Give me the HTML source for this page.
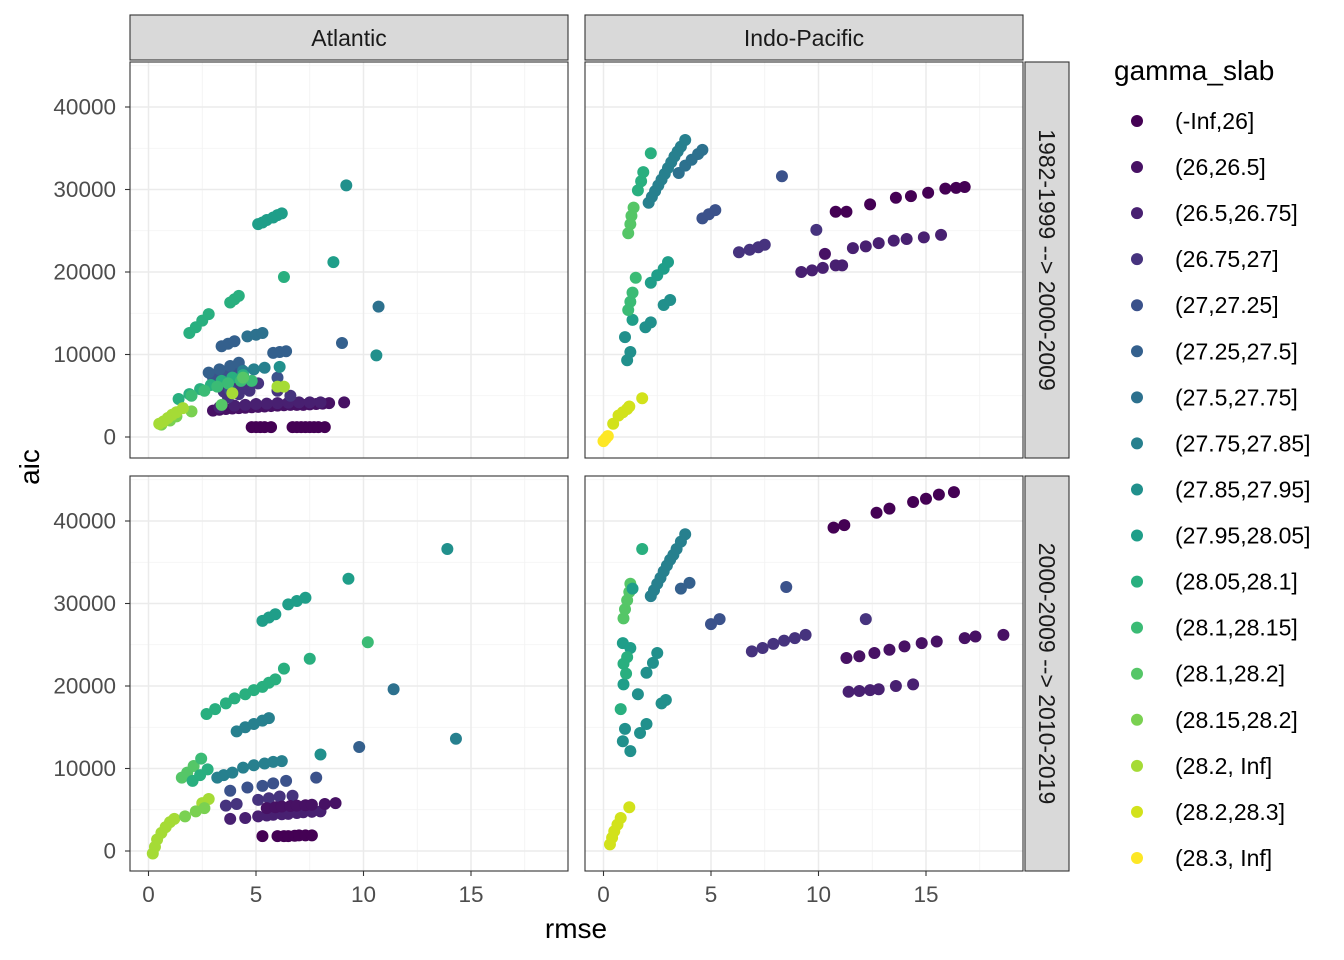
<!DOCTYPE html>
<html><head><meta charset="utf-8"><style>
body{margin:0;background:#fff;}
svg{display:block;font-family:"Liberation Sans",sans-serif;}
</style></head><body>
<svg id="chart" width="1344" height="960" xmlns="http://www.w3.org/2000/svg"></svg>
<script>
// ---- data: [rmse, aic (thousands), level index] ----
const levels = ["(-Inf,26]","(26,26.5]","(26.5,26.75]","(26.75,27]","(27,27.25]","(27.25,27.5]","(27.5,27.75]","(27.75,27.85]","(27.85,27.95]","(27.95,28.05]","(28.05,28.1]","(28.1,28.15]","(28.1,28.2]","(28.15,28.2]","(28.2, Inf]","(28.2,28.3]","(28.3, Inf]"];
const colors = ["#440154","#471164","#482071","#46337E","#3B528B","#34608D","#2D718E","#27808E","#21908C","#1F9E89","#29AF7F","#3BBB75","#55C667","#7AD151","#A5DB36","#D2E21B","#FDE725"];
const xTicks = [0,5,10,15];
const yTicks = [0,10000,20000,30000,40000];
const colLabels = ["Atlantic","Indo-Pacific"];
const rowLabels = ["1982-1999 --> 2000-2009","2000-2009 --> 2010-2019"];

const atlanticP1 = [
[4.8,1.2,0],[5.0,1.2,0],[5.2,1.2,0],[5.4,1.2,0],[5.7,1.2,0],[6.7,1.2,0],[6.9,1.2,0],[7.1,1.2,0],[7.3,1.2,0],[7.5,1.2,0],[7.7,1.2,0],[7.9,1.2,0],[8.2,1.2,0],
[3.0,3.2,1],[3.3,3.3,1],[3.6,3.4,1],[3.9,3.45,1],[4.2,3.5,1],[4.5,3.55,1],[4.8,3.6,1],[5.1,3.65,1],[5.4,3.7,1],[5.7,3.75,1],[6.0,3.8,1],[6.3,3.85,1],[6.6,3.9,1],[6.9,3.9,1],[7.2,3.9,1],[7.5,3.95,1],[7.8,4.0,1],[8.1,4.05,1],[8.4,4.1,1],[9.1,4.2,1],
[4.0,3.8,2],[4.5,3.9,2],[5.0,4.0,2],[5.5,4.05,2],[6.0,4.1,2],[6.5,4.15,2],[7.0,4.2,2],[7.5,4.2,2],[8.0,4.2,2],[3.3,3.6,2],
[3.7,4.8,3],[4.2,5.2,3],[4.7,5.6,3],[3.5,5.5,3],[4.0,6.0,3],[4.5,6.3,3],[5.1,6.5,3],[6.0,5.6,3],[6.6,5.0,3],
[3.0,7.2,4],[3.5,7.5,4],[4.0,7.9,4],[4.3,8.2,4],[3.8,5.7,4],[6.0,7.2,4],
[2.8,7.8,5],[3.3,8.2,5],[3.8,8.6,5],[4.2,9.0,5],[3.4,11.0,5],[3.7,11.3,5],[4.0,11.6,5],[5.8,10.2,5],[6.1,10.3,5],[6.4,10.4,5],[9.0,11.4,5],
[4.6,12.2,6],[5.0,12.4,6],[5.3,12.6,6],[10.7,15.8,6],
[4.4,8.0,7],[4.9,8.2,7],[5.4,8.4,7],
[6.1,8.5,8],[10.6,9.9,8],[9.2,30.5,8],
[5.1,25.8,9],[5.3,26.0,9],[5.5,26.3,9],[5.8,26.6,9],[6.0,26.9,9],[6.2,27.1,9],[8.6,21.2,9],
[1.9,12.6,10],[2.2,13.3,10],[2.5,14.1,10],[2.8,14.9,10],[3.8,16.3,10],[4.0,16.7,10],[4.2,17.1,10],[6.3,19.4,10],
[1.4,4.6,10],[1.9,5.2,10],[2.4,5.8,10],[2.9,6.3,10],[3.4,6.8,10],[3.9,7.2,10],[4.4,7.5,10],
[2.0,5.0,11],[2.6,5.6,11],[3.2,6.1,11],[3.7,6.5,11],[4.3,6.8,11],[4.8,6.8,11],
[4.4,7.2,12],[3.4,3.9,12],[2.0,3.1,13],
[0.6,1.5,13],[1.0,2.0,13],[1.3,2.5,13],
[0.5,1.6,14],[0.7,1.9,14],[0.9,2.3,14],[1.1,2.7,14],[1.3,3.0,14],[1.6,3.5,14],[3.9,5.3,14],[6.0,6.1,14],[6.3,6.1,14]
];
const indoP1 = [
[0.0,-0.5,16],[0.1,-0.2,16],[0.2,0.1,16],
[0.45,1.6,15],[0.7,2.6,15],[0.9,3.0,15],[1.1,3.4,15],[1.2,3.7,15],[1.8,4.7,15],
[1.1,9.3,8],[1.25,10.3,8],[1.0,12.1,8],[1.35,14.2,9],[1.95,13.3,8],[2.2,13.9,8],[2.8,16.0,8],[3.1,16.6,8],
[1.15,15.4,11],[1.25,16.4,11],[1.35,17.5,11],[1.5,19.3,11],
[2.2,18.7,9],[2.5,19.6,9],[2.8,20.4,9],[3.0,21.2,9],
[1.15,24.7,12],[1.25,25.8,12],[1.3,26.8,12],[1.4,27.8,12],
[1.6,29.9,10],[1.75,31.0,10],[1.85,32.1,10],[2.2,34.4,10],
[2.1,28.4,7],[2.25,29.1,7],[2.4,29.8,7],[2.55,30.5,7],[2.7,31.2,7],[2.85,31.9,7],[3.0,32.6,7],[3.15,33.3,7],[3.3,34.0,7],[3.45,34.6,7],[3.6,35.2,7],[3.8,36.0,7],
[3.5,32.0,6],[3.8,32.9,6],[4.1,33.6,6],[4.4,34.3,6],[4.6,34.8,6],
[4.6,26.5,4],[4.9,27.0,4],[5.2,27.5,4],[8.3,31.6,4],
[6.3,22.4,3],[6.8,22.7,3],[7.2,23.0,3],[7.5,23.3,3],[9.9,25.1,3],
[9.2,20.0,2],[9.7,20.2,2],[10.2,20.5,2],[10.8,20.8,2],[11.1,20.8,2],[11.6,22.9,2],[12.2,23.1,2],[12.8,23.5,2],[13.5,23.8,2],[14.1,24.0,2],[14.9,24.2,2],[15.7,24.5,2],
[10.3,22.2,1],
[10.8,27.3,0],[11.3,27.3,0],[12.4,28.2,0],[13.6,29.0,0],[14.3,29.2,0],[15.1,29.6,0],[15.9,30.1,0],[16.4,30.2,0],[16.8,30.3,0]
];
const atlanticP2 = [
[0.2,-0.3,14],[0.3,0.5,14],[0.4,1.4,14],[0.6,2.2,14],[0.8,2.9,14],[1.0,3.5,14],[1.2,3.9,14],[2.5,5.8,14],[2.8,6.3,14],
[1.7,4.2,13],[2.2,4.8,13],[2.6,5.2,13],
[1.55,8.9,12],[1.8,9.5,12],[2.1,10.3,12],[2.45,11.2,11],
[2.05,8.5,10],[2.4,9.2,10],[2.75,9.9,10],
[3.2,8.9,7],[3.5,9.2,7],[3.9,9.5,7],[4.4,10.1,7],[4.9,10.4,7],[5.4,10.6,7],[5.8,10.8,7],[6.2,10.9,7],[8.0,11.7,8],
[9.8,12.6,5],
[3.8,7.3,4],[4.6,7.7,4],[5.3,7.9,4],[5.8,8.2,4],[6.4,8.5,4],[7.8,8.9,4],
[3.6,5.5,3],[4.1,5.7,3],[5.1,6.2,3],[5.6,6.4,3],[6.1,6.6,3],[6.7,6.7,3],
[3.8,3.9,2],[4.5,4.0,2],[5.1,4.2,2],[5.5,4.3,2],[5.8,4.4,2],[6.2,4.45,2],[6.5,4.5,2],[6.9,4.6,2],[7.2,4.7,2],[7.6,4.75,2],[8.0,4.8,2],
[5.5,5.2,1],[5.9,5.3,1],[6.2,5.4,1],[6.6,5.45,1],[6.9,5.5,1],[7.3,5.55,1],[7.6,5.6,1],[8.2,5.7,1],[8.7,5.8,1],
[5.3,1.8,0],[6.0,1.8,0],[6.3,1.8,0],[6.5,1.8,0],[6.8,1.85,0],[7.0,1.9,0],[7.3,1.9,0],[7.6,1.9,0],
[2.7,16.6,10],[3.1,17.2,10],[3.6,17.9,10],[4.0,18.5,10],[4.5,19.0,10],[4.9,19.5,10],[5.3,19.9,10],[5.6,20.4,10],[5.9,20.8,10],[6.3,22.1,10],[7.5,23.3,10],
[4.1,14.5,7],[4.5,15.0,7],[4.9,15.4,7],[5.3,15.8,7],[5.6,16.1,7],
[5.3,27.9,9],[5.6,28.3,9],[5.9,28.7,9],[6.5,29.9,9],[6.9,30.3,9],[7.3,30.7,9],[9.3,33.0,9],
[10.2,25.3,11],[11.4,19.6,6],[13.9,36.6,8],[14.3,13.6,7]
];
const indoP2 = [
[0.3,0.8,15],[0.4,1.6,15],[0.5,2.4,15],[0.65,3.2,15],[0.8,4.0,15],[1.2,5.3,15],
[1.25,12.1,8],[0.9,13.3,8],[1.0,14.8,8],[1.7,14.3,8],[2.0,15.4,8],[1.6,19.0,8],[2.7,17.9,8],[2.9,18.3,8],[2.0,21.6,8],[2.3,22.8,8],[2.5,24.0,8],
[0.8,17.2,10],[0.93,20.2,9],[0.9,25.2,9],[1.25,24.6,9],[0.93,22.7,10],[1.1,23.5,10],[1.05,21.5,10],
[0.93,28.2,12],[1.0,29.3,12],[1.1,30.4,12],[1.2,31.4,12],[1.25,32.4,12],[1.35,31.8,9],
[1.8,36.6,10],
[2.2,30.9,7],[2.35,31.6,7],[2.5,32.4,7],[2.65,33.1,7],[2.8,33.9,7],[2.95,34.6,7],[3.1,35.3,7],[3.25,35.9,7],[3.4,36.6,7],[3.6,37.5,7],[3.8,38.4,7],
[3.6,31.8,5],[4.0,32.5,5],
[5.0,27.5,4],[5.4,28.1,4],[8.5,32.0,4],
[6.9,24.2,3],[7.4,24.6,3],[7.9,25.1,3],[8.4,25.5,3],[8.9,25.8,3],[9.4,26.2,3],[12.2,28.1,3],
[11.4,19.3,2],[11.9,19.4,2],[12.4,19.5,2],[12.8,19.6,2],[13.6,20.0,2],[14.4,20.2,2],
[11.3,23.4,1],[11.9,23.6,1],[12.6,24.0,1],[13.3,24.4,1],[14.0,24.8,1],[14.8,25.2,1],[15.5,25.4,1],[16.8,25.8,1],[17.3,26.0,1],[18.6,26.2,1],
[10.7,39.2,0],[11.2,39.5,0],[12.7,41.0,0],[13.3,41.5,0],[14.4,42.3,0],[15.0,42.7,0],[15.6,43.2,0],[16.3,43.5,0]
];

const NS="http://www.w3.org/2000/svg";
const svg=document.getElementById('chart');
function mk(tag,attrs,parent){const e=document.createElementNS(NS,tag);for(const k in attrs)e.setAttribute(k,attrs[k]);(parent||svg).appendChild(e);return e;}

const panels=[
 {x0:130,y0:62,h:396,data:atlanticP1,name:'atlantic-1982'},
 {x0:585,y0:62,h:396,data:indoP1,name:'indo-pacific-1982'},
 {x0:130,y0:476,h:395,data:atlanticP2,name:'atlantic-2000'},
 {x0:585,y0:476,h:395,data:indoP2,name:'indo-pacific-2000'}
];
const W=438;
function xs(p,v){return p.x0+18.5+v*21.5;}
function ys(p,v){return p.y0+375-v*8.25;}

panels.forEach((p,pi)=>{
 const g=mk('g',{});
 
 
 mk('rect',{x:p.x0,y:p.y0,width:W,height:p.h,fill:'#fff'},g);
 [2.5,7.5,12.5,17.5].forEach(v=>{const x=xs(p,v);mk('line',{x1:x,x2:x,y1:p.y0,y2:p.y0+p.h,stroke:'#F2F2F2','stroke-width':0.8},g);});
 [5,15,25,35,45].forEach(v=>{const y=ys(p,v);if(y>p.y0)mk('line',{x1:p.x0,x2:p.x0+W,y1:y,y2:y,stroke:'#F2F2F2','stroke-width':0.8},g);});
 xTicks.forEach(v=>{const x=xs(p,v);mk('line',{x1:x,x2:x,y1:p.y0,y2:p.y0+p.h,stroke:'#EBEBEB','stroke-width':1.5},g);});
 yTicks.forEach(v=>{const y=ys(p,v/1000);mk('line',{x1:p.x0,x2:p.x0+W,y1:y,y2:y,stroke:'#EBEBEB','stroke-width':1.5},g);});
 p.data.forEach(d=>{
  const c=mk('circle',{cx:xs(p,d[0]),cy:ys(p,d[1]),r:6,fill:colors[d[2]]},g);
  
  
 });
 mk('rect',{x:p.x0,y:p.y0,width:W,height:p.h,fill:'none',stroke:'#333','stroke-width':1.1},g);
 if(pi%2===0){
  yTicks.forEach(v=>{const y=ys(p,v/1000);
   mk('line',{x1:p.x0-5,x2:p.x0,y1:y,y2:y,stroke:'#333','stroke-width':1.1});
   const t=mk('text',{x:p.x0-14,y:y+7.5,'text-anchor':'end','font-size':22.5,fill:'#4D4D4D'});t.textContent=String(v);
   
  });
 }
 if(pi>=2){
  xTicks.forEach(v=>{const x=xs(p,v);
   mk('line',{x1:x,x2:x,y1:p.y0+p.h,y2:p.y0+p.h+5,stroke:'#333','stroke-width':1.1});
   const t=mk('text',{x:x,y:p.y0+p.h+31,'text-anchor':'middle','font-size':22.5,fill:'#4D4D4D'});t.textContent=String(v);
   
  });
 }
});
colLabels.forEach((l,i)=>{
 const x0=[130,585][i];
 const s=mk('rect',{x:x0,y:15,width:W,height:45,fill:'#D9D9D9',stroke:'#333','stroke-width':1.1});
 
 const t=mk('text',{x:x0+W/2,y:46,'text-anchor':'middle','font-size':23,fill:'#1A1A1A'});t.textContent=l;
 
});
rowLabels.forEach((l,i)=>{
 const y0=[62,476][i],h=[396,395][i];
 const s=mk('rect',{x:1025,y:y0,width:44,height:h,fill:'#D9D9D9',stroke:'#333','stroke-width':1.1});
 
 const cy=y0+h/2;
 const t=mk('text',{x:1039,y:cy,'text-anchor':'middle','font-size':23,fill:'#1A1A1A',transform:`rotate(90 1039 ${cy})`});t.textContent=l;
 
});
let t=mk('text',{x:576,y:938,'text-anchor':'middle','font-size':28,fill:'#000'});t.textContent='rmse';

t=mk('text',{x:39,y:467,'text-anchor':'middle','font-size':28,fill:'#000',transform:'rotate(-90 39 467)'});t.textContent='aic';

t=mk('text',{x:1114,y:80,'font-size':28,fill:'#000'});t.textContent='gamma_slab';

levels.forEach((l,i)=>{
 const y=121+i*46.06;
 const g=mk('g',{});
 
 mk('circle',{cx:1137,cy:y,r:6,fill:colors[i]},g);
 const tt=mk('text',{x:1175,y:y+8,'font-size':23,fill:'#000'},g);tt.textContent=l;
});
</script>
</body></html>
